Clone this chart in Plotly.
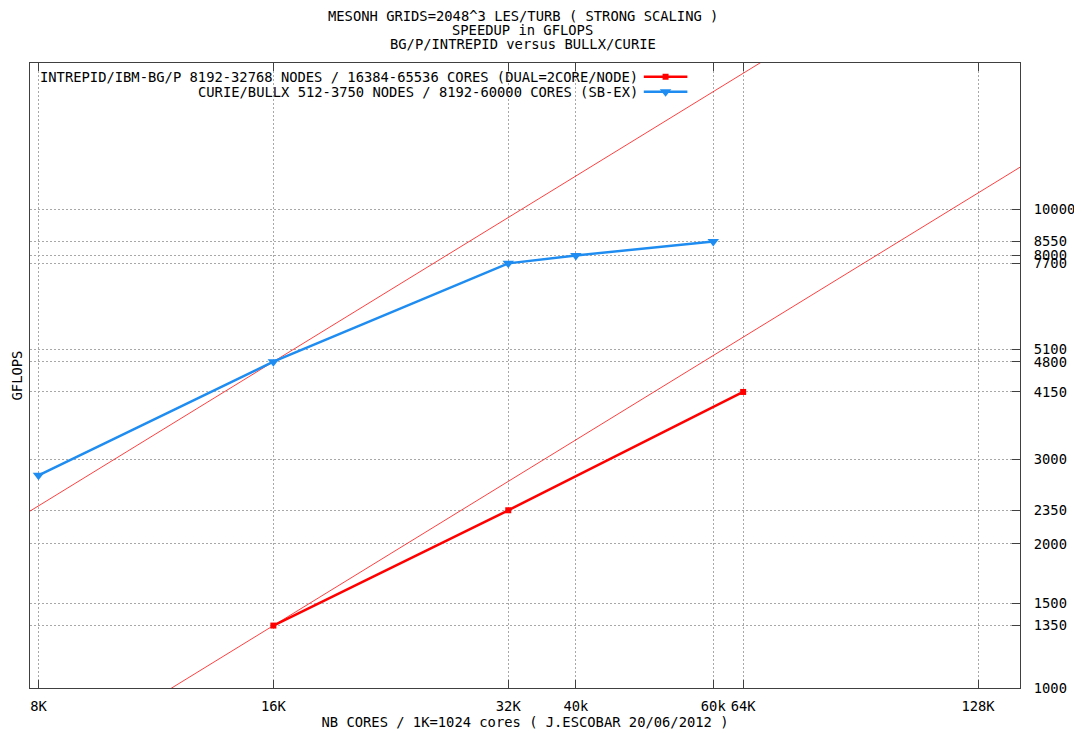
import numpy as np
import plotly.graph_objects as go

# ---- data ----
intrepid_cores = [16384, 32768, 65536]
intrepid_gflops = [1350, 2350, 4150]

curie_cores = [8192, 16384, 32768, 40000, 60000]
curie_gflops = [2780, 4800, 7700, 8000, 8550]

# ideal (linear) speedup reference points at 16K cores
ideal_base_cores = 16384
ideal_base_gflops = [4800, 1350]
ideal_x = [6000, 200000]

x_tickvals = [8192, 16384, 32768, 40000, 60000, 65536, 131072]
x_ticktext = ["8K", "16K", "32K", "40k", "60k", "64K", "128K"]
y_tickvals = [1000, 1350, 1500, 2000, 2350, 3000, 4150, 4800, 5100, 7700, 8000, 8550, 10000]
y_ticktext = [str(v) for v in y_tickvals]

title_lines = [
    "MESONH GRIDS=2048^3 LES/TURB ( STRONG SCALING )",
    "SPEEDUP in GFLOPS",
    "BG/P/INTREPID versus BULLX/CURIE",
]
legend_labels = [
    "INTREPID/IBM-BG/P 8192-32768 NODES / 16384-65536 CORES (DUAL=2CORE/NODE)",
    "CURIE/BULLX 512-3750 NODES / 8192-60000 CORES (SB-EX)",
]

RED = "#ff0000"
BLUE = "#1e8cf0"
FONT = "DejaVu Sans Mono"
FS = 13.8
GRID = "#a8a8a8"

fig = go.Figure()

# ideal speedup lines
for b in ideal_base_gflops:
    fig.add_trace(go.Scatter(
        x=ideal_x, y=[b * xx / ideal_base_cores for xx in ideal_x],
        mode="lines", line=dict(color="rgba(255,0,0,0.75)", width=1),
        showlegend=False, hoverinfo="skip"))

fig.add_trace(go.Scatter(
    x=intrepid_cores, y=intrepid_gflops, mode="lines+markers",
    line=dict(color=RED, width=2.5),
    marker=dict(symbol="square", size=6, color=RED),
    showlegend=False))

fig.add_trace(go.Scatter(
    x=curie_cores, y=curie_gflops, mode="lines+markers",
    line=dict(color=BLUE, width=2.5),
    marker=dict(symbol="triangle-down", size=10, color=BLUE),
    showlegend=False))

# legend keys on an overlay paper-like axis
legend_y = [0.978, 0.954]
legend_colors = [RED, BLUE]
legend_syms = ["square", "triangle-down"]
legend_msize = [6, 10]
for ly, c, s, ms in zip(legend_y, legend_colors, legend_syms, legend_msize):
    fig.add_trace(go.Scatter(
        x=[0.620, 0.664], y=[ly, ly], mode="lines", line=dict(color=c, width=2.5),
        xaxis="x2", yaxis="y2", showlegend=False, hoverinfo="skip"))
    fig.add_trace(go.Scatter(
        x=[0.642], y=[ly], mode="markers", marker=dict(symbol=s, size=ms, color=c),
        xaxis="x2", yaxis="y2", showlegend=False, hoverinfo="skip"))

annotations = []
for ly, txt in zip(legend_y, legend_labels):
    annotations.append(dict(x=0.616, y=ly, xref="paper", yref="paper", text=txt,
                            showarrow=False, xanchor="right", yanchor="middle",
                            font=dict(family=FONT, size=FS, color="black")))
annotations.append(dict(x=-0.0132, y=0.5, xref="paper", yref="paper", text="GFLOPS",
                        textangle=-90, showarrow=False, xanchor="center", yanchor="middle",
                        font=dict(family=FONT, size=FS, color="black")))
# title lines (pixel spacing like the original)
for i, t in enumerate(title_lines):
    annotations.append(dict(x=0.4975, y=1, xref="paper", yref="paper", text=t,
                            showarrow=False, xanchor="center", yanchor="middle",
                            yshift=63 - 16 - 14 * i,
                            font=dict(family=FONT, size=FS, color="black")))

# page body has an 8px margin: figure is shrunk by 8px so it fits the window
fig.update_layout(
    width=1074, height=725,
    margin=dict(l=22, r=62, t=55, b=45),
    paper_bgcolor="white", plot_bgcolor="white",
    font=dict(family=FONT, size=FS, color="black"),
    xaxis=dict(
        type="log", range=[3.9025, 5.1713], automargin=False,
        tickvals=x_tickvals, ticktext=x_ticktext,
        ticks="inside", ticklen=8, tickcolor="#404040",
        showline=True, linecolor="#404040", linewidth=1, mirror="ticks",
        showgrid=True, gridcolor=GRID, griddash="2px,2px", gridwidth=1,
        zeroline=False, ticklabelstandoff=5,
        title=dict(text="NB CORES / 1K=1024 cores ( J.ESCOBAR 20/06/2012 )",
                   font=dict(family=FONT, size=FS), standoff=4)),
    yaxis=dict(
        type="log", range=[3.0, 4.3048], side="right", automargin=False,
        tickvals=y_tickvals, ticktext=y_ticktext,
        ticks="inside", ticklen=8, tickcolor="#404040",
        showline=True, linecolor="#404040", linewidth=1, mirror=True,
        showgrid=True, gridcolor=GRID, griddash="2px,2px", gridwidth=1,
        zeroline=False, ticklabelstandoff=10),
    xaxis2=dict(overlaying="x", range=[0, 1], visible=False, fixedrange=True),
    yaxis2=dict(overlaying="y", range=[0, 1], visible=False, fixedrange=True),
    annotations=annotations,
    showlegend=False,
)

fig.write_html("out.html")
